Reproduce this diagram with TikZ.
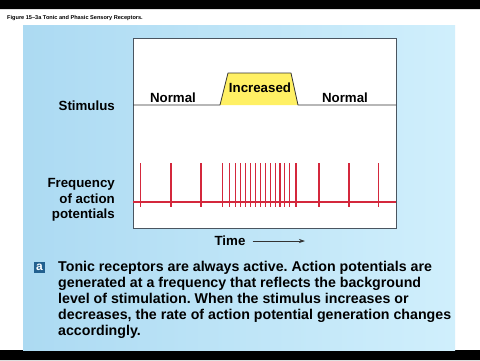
\documentclass[tikz,border=0pt]{standalone}
\usepackage{fontspec}
\setmainfont{Liberation Sans}
\usetikzlibrary{arrows.meta}
\definecolor{panelleft}{RGB}{172,218,242}
\definecolor{panelright}{RGB}{208,239,252}
\definecolor{spikered}{RGB}{212,40,60}
\definecolor{stimyellow}{RGB}{255,240,100}
\definecolor{badgeblue}{RGB}{34,96,143}
\definecolor{framegray}{RGB}{74,85,96}
\tikzset{
  lbl/.style={font=\fontsize{13.3}{15.5}\selectfont\bfseries, inner sep=0pt},
  spike/.style={draw=spikered, line width=1.3pt},
  trace/.style={draw=black!80, line width=0.8pt, line join=round},
  body/.style={font=\fontsize{14.2}{16}\selectfont\bfseries\frenchspacing, align=left, inner sep=0pt},
  badge/.style={fill=badgeblue, text=white, minimum size=11pt, inner sep=0pt, font=\fontsize{12}{12}\selectfont\bfseries}
}
\begin{document}
\begin{tikzpicture}[x=1pt, y=-1pt]
\useasboundingbox (0,0) rectangle (480,360);
\fill[white] (0,0) rectangle (480,360);
\fill[black] (0,0) rectangle (480,9) (0,350) rectangle (480,360);
\node[font=\fontsize{5.6}{6}\selectfont\bfseries, anchor=west, inner sep=0pt] (title) at (7,18) {Figure 15--3a Tonic and Phasic Sensory Receptors.};
\shade[left color=panelleft, right color=panelright] (23,25) rectangle (455,350);
\filldraw[fill=white, draw=framegray, line width=0.8pt] (133,38) rectangle (396,228);
% stimulus trace
\fill[stimyellow] (220,105) -- (228,73) -- (291,73) -- (298,105) -- cycle;
\draw[trace] (133,105) -- (220,105) -- (228,73) -- (291,73) -- (298,105) -- (396,105);
\node[lbl, anchor=east] (stim) at (115,106) {Stimulus};
\node[lbl] (normala) at (173,98) {Normal};
\node[lbl] (incr) at (260,88) {Increased};
\node[lbl] (normalb) at (345,98) {Normal};
% action potentials
\draw[spike] (133,202) -- (396,202);
\foreach \x in {140.5,171,201,222.7,229.3,235.7,240.7,245.7,250.7,255.7,260.7,265.7,270.5,275.3,280,284.7,289.3,296,319,349,378.5}
  \draw[spike] (\x,163) -- (\x,207);
\node[lbl, align=right, anchor=east] (freq) at (115,200) {Frequency\\of action\\potentials};
\node[lbl] (time) at (230,241) {Time};
\coordinate (timeend) at (305,241);
\draw[black!80, line width=0.7pt, -{Stealth[length=6pt,width=4pt]}] ([xshift=7pt]time.east) -- (timeend);
% caption
\node[badge] (badge) at (39.5,267.5) {a};
\node[body, anchor=north west] (text) at (58,261.5) {Tonic receptors are always active. Action potentials are\\generated at a frequency that reflects the background\\level of stimulation. When the stimulus increases or\\decreases, the rate of action potential generation changes\\accordingly.};
\end{tikzpicture}
\end{document}
